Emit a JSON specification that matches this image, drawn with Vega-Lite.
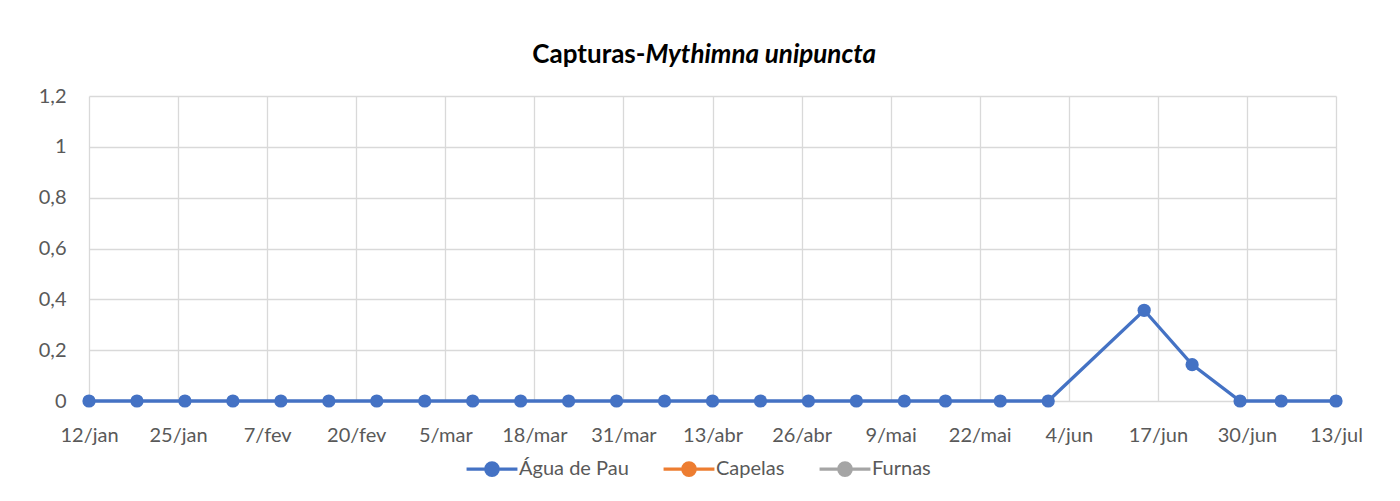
{
  "$schema": "https://vega.github.io/schema/vega-lite/v6.json",
  "autosize": "none",
  "width": 1247,
  "height": 305,
  "padding": {"left": 89, "top": 96, "right": 64, "bottom": 100},
  "background": "white",
  "data": {
    "values": [
      {"data": "2023-01-12", "serie": "Água de Pau", "valor": 0},
      {"data": "2023-01-19", "serie": "Água de Pau", "valor": 0},
      {"data": "2023-01-26", "serie": "Água de Pau", "valor": 0},
      {"data": "2023-02-02", "serie": "Água de Pau", "valor": 0},
      {"data": "2023-02-09", "serie": "Água de Pau", "valor": 0},
      {"data": "2023-02-16", "serie": "Água de Pau", "valor": 0},
      {"data": "2023-02-23", "serie": "Água de Pau", "valor": 0},
      {"data": "2023-03-02", "serie": "Água de Pau", "valor": 0},
      {"data": "2023-03-09", "serie": "Água de Pau", "valor": 0},
      {"data": "2023-03-16", "serie": "Água de Pau", "valor": 0},
      {"data": "2023-03-23", "serie": "Água de Pau", "valor": 0},
      {"data": "2023-03-30", "serie": "Água de Pau", "valor": 0},
      {"data": "2023-04-06", "serie": "Água de Pau", "valor": 0},
      {"data": "2023-04-13", "serie": "Água de Pau", "valor": 0},
      {"data": "2023-04-20", "serie": "Água de Pau", "valor": 0},
      {"data": "2023-04-27", "serie": "Água de Pau", "valor": 0},
      {"data": "2023-05-04", "serie": "Água de Pau", "valor": 0},
      {"data": "2023-05-11", "serie": "Água de Pau", "valor": 0},
      {"data": "2023-05-17", "serie": "Água de Pau", "valor": 0},
      {"data": "2023-05-25", "serie": "Água de Pau", "valor": 0},
      {"data": "2023-06-01", "serie": "Água de Pau", "valor": 0},
      {"data": "2023-06-15", "serie": "Água de Pau", "valor": 0.357},
      {"data": "2023-06-22", "serie": "Água de Pau", "valor": 0.143},
      {"data": "2023-06-29", "serie": "Água de Pau", "valor": 0},
      {"data": "2023-07-05", "serie": "Água de Pau", "valor": 0},
      {"data": "2023-07-13", "serie": "Água de Pau", "valor": 0}
    ]
  },
  "mark": {
    "type": "line",
    "strokeWidth": 3.3,
    "point": {"filled": true, "size": 175, "opacity": 1}
  },
  "encoding": {
    "x": {
      "field": "data",
      "type": "temporal",
      "scale": {
        "type": "utc",
        "domain": [
          {"year": 2023, "month": 1, "date": 12, "utc": true},
          {"year": 2023, "month": 7, "date": 13, "utc": true}
        ]
      },
      "axis": {
        "title": "Capturas-",
        "titleX": 556,
        "titleY": -339,
        "titleAlign": "right",
        "titleAnchor": null,
        "titleBaseline": "alphabetic",
        "titleFont": "Lato",
        "titleFontSize": 26,
        "titleFontWeight": "bold",
        "titleColor": "#000000",
        "values": [
          {"year": 2023, "month": 1, "date": 12, "utc": true},
          {"year": 2023, "month": 1, "date": 25, "utc": true},
          {"year": 2023, "month": 2, "date": 7, "utc": true},
          {"year": 2023, "month": 2, "date": 20, "utc": true},
          {"year": 2023, "month": 3, "date": 5, "utc": true},
          {"year": 2023, "month": 3, "date": 18, "utc": true},
          {"year": 2023, "month": 3, "date": 31, "utc": true},
          {"year": 2023, "month": 4, "date": 13, "utc": true},
          {"year": 2023, "month": 4, "date": 26, "utc": true},
          {"year": 2023, "month": 5, "date": 9, "utc": true},
          {"year": 2023, "month": 5, "date": 22, "utc": true},
          {"year": 2023, "month": 6, "date": 4, "utc": true},
          {"year": 2023, "month": 6, "date": 17, "utc": true},
          {"year": 2023, "month": 6, "date": 30, "utc": true},
          {"year": 2023, "month": 7, "date": 13, "utc": true}
        ],
        "labelExpr": "utcdate(datum.value) + '/' + ['jan','fev','mar','abr','mai','jun','jul','ago','set','out','nov','dez'][utcmonth(datum.value)]",
        "labelFlush": false,
        "labelOverlap": false,
        "labelBound": false,
        "labelPadding": 24,
        "grid": true,
        "domain": false,
        "ticks": false,
        "tickSize": 0
      }
    },
    "y": {
      "field": "valor",
      "type": "quantitative",
      "scale": {"domain": [0, 1.2], "nice": false, "zero": true},
      "axis": {
        "title": "Mythimna unipuncta",
        "titleAngle": 0,
        "titleX": 556,
        "titleY": -34,
        "titleAlign": "left",
        "titleAnchor": null,
        "titleBaseline": "alphabetic",
        "titleFont": "Lato",
        "titleFontSize": 26,
        "titleFontWeight": "bold",
        "titleFontStyle": "italic",
        "titleColor": "#000000",
        "values": [0, 0.2, 0.4, 0.6, 0.8, 1, 1.2],
        "labelExpr": "replace(format(datum.value, '~g'), '.', ',')",
        "labelPadding": 23,
        "labelOffset": 0,
        "grid": true,
        "domain": false,
        "ticks": false,
        "tickSize": 0
      }
    },
    "color": {
      "field": "serie",
      "type": "nominal",
      "scale": {
        "domain": ["Água de Pau", "Capelas", "Furnas"],
        "range": ["#4472C4", "#ED7D31", "#A5A5A5"]
      },
      "legend": {
        "title": null,
        "orient": "none",
        "direction": "horizontal",
        "legendX": 393,
        "legendY": 363,
        "padding": 0,
        "symbolType": "M-4.1,0H4.1M1,0A1,1,0,1,1,-1,0A1,1,0,1,1,1,0Z",
        "symbolSize": 154,
        "symbolStrokeWidth": 3.3,
        "labelOffset": 17,
        "columnPadding": 27,
        "labelFont": "Lato",
        "labelFontSize": 20,
        "labelColor": "#595959",
        "encode": {
          "symbols": {
            "update": {
              "fill": {"scale": "color", "field": "value"},
              "stroke": {"scale": "color", "field": "value"},
              "opacity": {"value": 1}
            }
          }
        }
      }
    }
  },
  "config": {
    "view": {"stroke": null},
    "axis": {
      "gridColor": "#d9d9d9",
      "gridWidth": 1.3,
      "gridOpacity": 1,
      "labelFont": "Lato",
      "labelFontSize": 20,
      "labelColor": "#595959"
    }
  }
}
